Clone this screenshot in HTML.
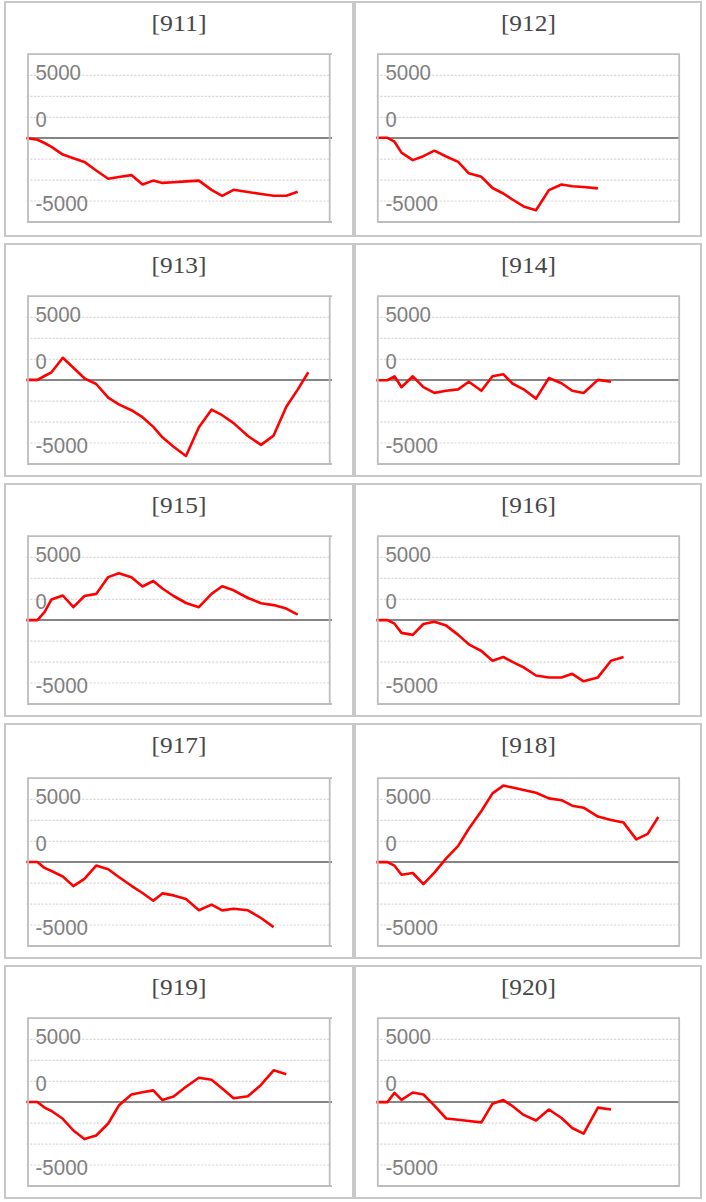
<!DOCTYPE html>
<html><head><meta charset="utf-8"><title>charts</title>
<style>html,body{margin:0;padding:0;background:#fff;width:706px;height:1202px;overflow:hidden}
svg{position:absolute;left:0;top:0;display:block}
</style></head>
<body>
<svg width="706" height="1202" viewBox="0 0 706 1202">
<rect x="5" y="2" width="348" height="234" fill="none" stroke="#c8c8c8" stroke-width="2"/>
<text x="179.0" y="31.0" text-anchor="middle" textLength="55.0" lengthAdjust="spacingAndGlyphs" style="font-family:&quot;Liberation Serif&quot;,serif" font-size="24" fill="#474747">[911]</text>
<g transform="translate(0,0)"><line x1="26.48" x2="329.0" y1="75.4" y2="75.4" stroke="#dadada" stroke-width="1.2" stroke-dasharray="2.4 1.31"/><line x1="26.48" x2="329.0" y1="96.35" y2="96.35" stroke="#dadada" stroke-width="1.2" stroke-dasharray="2.4 1.31"/><line x1="26.48" x2="329.0" y1="117.3" y2="117.3" stroke="#dadada" stroke-width="1.2" stroke-dasharray="2.4 1.31"/><line x1="26.48" x2="329.0" y1="159.1" y2="159.1" stroke="#dadada" stroke-width="1.2" stroke-dasharray="2.4 1.31"/><line x1="26.48" x2="329.0" y1="180.05" y2="180.05" stroke="#dadada" stroke-width="1.2" stroke-dasharray="2.4 1.31"/><line x1="26.48" x2="329.0" y1="201.0" y2="201.0" stroke="#dadada" stroke-width="1.2" stroke-dasharray="2.4 1.31"/><text x="35.5" y="80.0" textLength="45.5" lengthAdjust="spacingAndGlyphs" style="font-family:&quot;Liberation Sans&quot;,sans-serif" font-size="22" fill="#808080">5000</text><text x="35.5" y="127.0" textLength="11.2" lengthAdjust="spacingAndGlyphs" style="font-family:&quot;Liberation Sans&quot;,sans-serif" font-size="22" fill="#808080">0</text><text x="35.5" y="211.0" textLength="52.5" lengthAdjust="spacingAndGlyphs" style="font-family:&quot;Liberation Sans&quot;,sans-serif" font-size="22" fill="#808080">-5000</text><line x1="28" x2="332" y1="138.0" y2="138.0" stroke="#858585" stroke-width="2.0"/></g>
<polyline points="26.3,138.0 37.4,139.7 44.5,143.0 51.5,146.9 62.8,154.6 73.4,158.3 84.4,161.9 96.2,170.5 108.2,178.8 118.8,177.0 131.4,175.1 142.5,184.5 153.3,180.6 162.4,182.9 173.6,182.2 186.0,181.4 198.9,180.6 211.5,189.9 222.2,195.8 233.6,189.8 247.9,192.0 261.0,194.0 273.6,195.7 286.3,195.7 297.7,191.8" fill="none" stroke="#ff0000" stroke-width="2.6" stroke-linejoin="round" stroke-linecap="butt"/>
<g transform="translate(0,0)"><line x1="27.0" x2="332.0" y1="54.2" y2="54.2" stroke="#bdbdbd" stroke-width="1.8"/><line x1="27.0" x2="332.0" y1="222.0" y2="222.0" stroke="#bdbdbd" stroke-width="1.8"/><line x1="28.0" x2="28.0" y1="54.2" y2="222.0" stroke="#bdbdbd" stroke-width="1.8"/><line x1="329.7" x2="329.7" y1="54.2" y2="222.0" stroke="#bdbdbd" stroke-width="1.8"/></g>
<rect x="355" y="2" width="346" height="234" fill="none" stroke="#c8c8c8" stroke-width="2"/>
<text x="528.4" y="31.0" text-anchor="middle" textLength="55.0" lengthAdjust="spacingAndGlyphs" style="font-family:&quot;Liberation Serif&quot;,serif" font-size="24" fill="#474747">[912]</text>
<g transform="translate(350,0)"><line x1="26.48" x2="329.0" y1="75.4" y2="75.4" stroke="#dadada" stroke-width="1.2" stroke-dasharray="2.4 1.31"/><line x1="26.48" x2="329.0" y1="96.35" y2="96.35" stroke="#dadada" stroke-width="1.2" stroke-dasharray="2.4 1.31"/><line x1="26.48" x2="329.0" y1="117.3" y2="117.3" stroke="#dadada" stroke-width="1.2" stroke-dasharray="2.4 1.31"/><line x1="26.48" x2="329.0" y1="159.1" y2="159.1" stroke="#dadada" stroke-width="1.2" stroke-dasharray="2.4 1.31"/><line x1="26.48" x2="329.0" y1="180.05" y2="180.05" stroke="#dadada" stroke-width="1.2" stroke-dasharray="2.4 1.31"/><line x1="26.48" x2="329.0" y1="201.0" y2="201.0" stroke="#dadada" stroke-width="1.2" stroke-dasharray="2.4 1.31"/><text x="35.5" y="80.0" textLength="45.5" lengthAdjust="spacingAndGlyphs" style="font-family:&quot;Liberation Sans&quot;,sans-serif" font-size="22" fill="#808080">5000</text><text x="35.5" y="127.0" textLength="11.2" lengthAdjust="spacingAndGlyphs" style="font-family:&quot;Liberation Sans&quot;,sans-serif" font-size="22" fill="#808080">0</text><text x="35.5" y="211.0" textLength="52.5" lengthAdjust="spacingAndGlyphs" style="font-family:&quot;Liberation Sans&quot;,sans-serif" font-size="22" fill="#808080">-5000</text><line x1="28" x2="329.5" y1="138.0" y2="138.0" stroke="#858585" stroke-width="2.0"/></g>
<polyline points="376.3,137.8 387.4,137.8 394.5,141.7 401.5,152.6 412.8,160.1 423.4,156.2 434.4,150.7 446.2,156.5 458.2,161.9 468.8,173.3 481.4,176.8 492.5,188.0 503.3,193.5 512.4,199.5 523.6,206.4 536.0,210.3 548.9,190.1 561.5,184.5 572.2,186.2 583.6,187.0 597.9,188.4" fill="none" stroke="#ff0000" stroke-width="2.6" stroke-linejoin="round" stroke-linecap="butt"/>
<g transform="translate(350,0)"><line x1="27.0" x2="330.0" y1="54.2" y2="54.2" stroke="#bdbdbd" stroke-width="1.8"/><line x1="27.0" x2="330.0" y1="222.0" y2="222.0" stroke="#bdbdbd" stroke-width="1.8"/><line x1="27.8" x2="27.8" y1="54.2" y2="222.0" stroke="#bdbdbd" stroke-width="1.8"/><line x1="329.2" x2="329.2" y1="54.2" y2="222.0" stroke="#bdbdbd" stroke-width="1.8"/></g>
<rect x="5" y="244" width="348" height="232" fill="none" stroke="#c8c8c8" stroke-width="2"/>
<text x="179.0" y="273.0" text-anchor="middle" textLength="55.0" lengthAdjust="spacingAndGlyphs" style="font-family:&quot;Liberation Serif&quot;,serif" font-size="24" fill="#474747">[913]</text>
<g transform="translate(0,242)"><line x1="26.48" x2="329.0" y1="75.4" y2="75.4" stroke="#dadada" stroke-width="1.2" stroke-dasharray="2.4 1.31"/><line x1="26.48" x2="329.0" y1="96.35" y2="96.35" stroke="#dadada" stroke-width="1.2" stroke-dasharray="2.4 1.31"/><line x1="26.48" x2="329.0" y1="117.3" y2="117.3" stroke="#dadada" stroke-width="1.2" stroke-dasharray="2.4 1.31"/><line x1="26.48" x2="329.0" y1="159.1" y2="159.1" stroke="#dadada" stroke-width="1.2" stroke-dasharray="2.4 1.31"/><line x1="26.48" x2="329.0" y1="180.05" y2="180.05" stroke="#dadada" stroke-width="1.2" stroke-dasharray="2.4 1.31"/><line x1="26.48" x2="329.0" y1="201.0" y2="201.0" stroke="#dadada" stroke-width="1.2" stroke-dasharray="2.4 1.31"/><text x="35.5" y="80.0" textLength="45.5" lengthAdjust="spacingAndGlyphs" style="font-family:&quot;Liberation Sans&quot;,sans-serif" font-size="22" fill="#808080">5000</text><text x="35.5" y="127.0" textLength="11.2" lengthAdjust="spacingAndGlyphs" style="font-family:&quot;Liberation Sans&quot;,sans-serif" font-size="22" fill="#808080">0</text><text x="35.5" y="211.0" textLength="52.5" lengthAdjust="spacingAndGlyphs" style="font-family:&quot;Liberation Sans&quot;,sans-serif" font-size="22" fill="#808080">-5000</text><line x1="28" x2="332" y1="138.0" y2="138.0" stroke="#858585" stroke-width="2.0"/></g>
<polyline points="26.3,379.9 37.4,379.9 44.5,376.0 51.5,372.3 62.8,357.8 73.4,367.7 84.4,378.3 96.2,384.0 108.2,397.6 118.8,404.4 131.4,410.2 142.5,417.2 153.3,426.9 162.4,437.3 173.6,446.7 186.0,456.0 198.9,427.3 211.5,409.7 222.2,415.2 233.6,423.1 247.9,436.0 261.0,444.9 273.6,435.6 286.3,406.7 297.7,389.6 308.3,372.2" fill="none" stroke="#ff0000" stroke-width="2.6" stroke-linejoin="round" stroke-linecap="butt"/>
<g transform="translate(0,242)"><line x1="27.0" x2="332.0" y1="54.2" y2="54.2" stroke="#bdbdbd" stroke-width="1.8"/><line x1="27.0" x2="332.0" y1="222.0" y2="222.0" stroke="#bdbdbd" stroke-width="1.8"/><line x1="28.0" x2="28.0" y1="54.2" y2="222.0" stroke="#bdbdbd" stroke-width="1.8"/><line x1="329.7" x2="329.7" y1="54.2" y2="222.0" stroke="#bdbdbd" stroke-width="1.8"/></g>
<rect x="355" y="244" width="346" height="232" fill="none" stroke="#c8c8c8" stroke-width="2"/>
<text x="528.4" y="273.0" text-anchor="middle" textLength="55.0" lengthAdjust="spacingAndGlyphs" style="font-family:&quot;Liberation Serif&quot;,serif" font-size="24" fill="#474747">[914]</text>
<g transform="translate(350,242)"><line x1="26.48" x2="329.0" y1="75.4" y2="75.4" stroke="#dadada" stroke-width="1.2" stroke-dasharray="2.4 1.31"/><line x1="26.48" x2="329.0" y1="96.35" y2="96.35" stroke="#dadada" stroke-width="1.2" stroke-dasharray="2.4 1.31"/><line x1="26.48" x2="329.0" y1="117.3" y2="117.3" stroke="#dadada" stroke-width="1.2" stroke-dasharray="2.4 1.31"/><line x1="26.48" x2="329.0" y1="159.1" y2="159.1" stroke="#dadada" stroke-width="1.2" stroke-dasharray="2.4 1.31"/><line x1="26.48" x2="329.0" y1="180.05" y2="180.05" stroke="#dadada" stroke-width="1.2" stroke-dasharray="2.4 1.31"/><line x1="26.48" x2="329.0" y1="201.0" y2="201.0" stroke="#dadada" stroke-width="1.2" stroke-dasharray="2.4 1.31"/><text x="35.5" y="80.0" textLength="45.5" lengthAdjust="spacingAndGlyphs" style="font-family:&quot;Liberation Sans&quot;,sans-serif" font-size="22" fill="#808080">5000</text><text x="35.5" y="127.0" textLength="11.2" lengthAdjust="spacingAndGlyphs" style="font-family:&quot;Liberation Sans&quot;,sans-serif" font-size="22" fill="#808080">0</text><text x="35.5" y="211.0" textLength="52.5" lengthAdjust="spacingAndGlyphs" style="font-family:&quot;Liberation Sans&quot;,sans-serif" font-size="22" fill="#808080">-5000</text><line x1="28" x2="329.5" y1="138.0" y2="138.0" stroke="#858585" stroke-width="2.0"/></g>
<polyline points="376.3,380.2 387.4,380.2 394.5,376.3 401.5,387.2 412.8,376.3 423.4,387.2 434.4,392.9 446.2,390.8 458.2,389.4 468.8,381.8 481.4,390.8 492.5,376.3 503.3,374.2 512.4,383.5 523.6,389.3 536.0,398.6 548.9,378.0 561.5,383.3 572.2,390.8 583.6,393.0 597.9,379.9 611.0,381.8" fill="none" stroke="#ff0000" stroke-width="2.6" stroke-linejoin="round" stroke-linecap="butt"/>
<g transform="translate(350,242)"><line x1="27.0" x2="330.0" y1="54.2" y2="54.2" stroke="#bdbdbd" stroke-width="1.8"/><line x1="27.0" x2="330.0" y1="222.0" y2="222.0" stroke="#bdbdbd" stroke-width="1.8"/><line x1="27.8" x2="27.8" y1="54.2" y2="222.0" stroke="#bdbdbd" stroke-width="1.8"/><line x1="329.2" x2="329.2" y1="54.2" y2="222.0" stroke="#bdbdbd" stroke-width="1.8"/></g>
<rect x="5" y="484" width="348" height="232" fill="none" stroke="#c8c8c8" stroke-width="2"/>
<text x="179.0" y="513.0" text-anchor="middle" textLength="55.0" lengthAdjust="spacingAndGlyphs" style="font-family:&quot;Liberation Serif&quot;,serif" font-size="24" fill="#474747">[915]</text>
<g transform="translate(0,482)"><line x1="26.48" x2="329.0" y1="75.4" y2="75.4" stroke="#dadada" stroke-width="1.2" stroke-dasharray="2.4 1.31"/><line x1="26.48" x2="329.0" y1="96.35" y2="96.35" stroke="#dadada" stroke-width="1.2" stroke-dasharray="2.4 1.31"/><line x1="26.48" x2="329.0" y1="117.3" y2="117.3" stroke="#dadada" stroke-width="1.2" stroke-dasharray="2.4 1.31"/><line x1="26.48" x2="329.0" y1="159.1" y2="159.1" stroke="#dadada" stroke-width="1.2" stroke-dasharray="2.4 1.31"/><line x1="26.48" x2="329.0" y1="180.05" y2="180.05" stroke="#dadada" stroke-width="1.2" stroke-dasharray="2.4 1.31"/><line x1="26.48" x2="329.0" y1="201.0" y2="201.0" stroke="#dadada" stroke-width="1.2" stroke-dasharray="2.4 1.31"/><text x="35.5" y="80.0" textLength="45.5" lengthAdjust="spacingAndGlyphs" style="font-family:&quot;Liberation Sans&quot;,sans-serif" font-size="22" fill="#808080">5000</text><text x="35.5" y="127.0" textLength="11.2" lengthAdjust="spacingAndGlyphs" style="font-family:&quot;Liberation Sans&quot;,sans-serif" font-size="22" fill="#808080">0</text><text x="35.5" y="211.0" textLength="52.5" lengthAdjust="spacingAndGlyphs" style="font-family:&quot;Liberation Sans&quot;,sans-serif" font-size="22" fill="#808080">-5000</text><line x1="28" x2="332" y1="138.0" y2="138.0" stroke="#858585" stroke-width="2.0"/></g>
<polyline points="26.3,620.1 37.4,620.1 44.5,612.2 51.5,599.4 62.8,595.5 73.4,607.2 84.4,596.0 96.2,593.9 108.2,577.1 118.8,573.2 131.4,577.2 142.5,586.5 153.3,581.0 162.4,588.5 173.6,596.0 186.0,603.0 198.9,607.2 211.5,593.9 222.2,586.3 233.6,590.3 247.9,598.0 261.0,603.2 273.6,605.1 286.3,608.6 297.7,614.7" fill="none" stroke="#ff0000" stroke-width="2.6" stroke-linejoin="round" stroke-linecap="butt"/>
<g transform="translate(0,482)"><line x1="27.0" x2="332.0" y1="54.2" y2="54.2" stroke="#bdbdbd" stroke-width="1.8"/><line x1="27.0" x2="332.0" y1="222.0" y2="222.0" stroke="#bdbdbd" stroke-width="1.8"/><line x1="28.0" x2="28.0" y1="54.2" y2="222.0" stroke="#bdbdbd" stroke-width="1.8"/><line x1="329.7" x2="329.7" y1="54.2" y2="222.0" stroke="#bdbdbd" stroke-width="1.8"/></g>
<rect x="355" y="484" width="346" height="232" fill="none" stroke="#c8c8c8" stroke-width="2"/>
<text x="528.4" y="513.0" text-anchor="middle" textLength="55.0" lengthAdjust="spacingAndGlyphs" style="font-family:&quot;Liberation Serif&quot;,serif" font-size="24" fill="#474747">[916]</text>
<g transform="translate(350,482)"><line x1="26.48" x2="329.0" y1="75.4" y2="75.4" stroke="#dadada" stroke-width="1.2" stroke-dasharray="2.4 1.31"/><line x1="26.48" x2="329.0" y1="96.35" y2="96.35" stroke="#dadada" stroke-width="1.2" stroke-dasharray="2.4 1.31"/><line x1="26.48" x2="329.0" y1="117.3" y2="117.3" stroke="#dadada" stroke-width="1.2" stroke-dasharray="2.4 1.31"/><line x1="26.48" x2="329.0" y1="159.1" y2="159.1" stroke="#dadada" stroke-width="1.2" stroke-dasharray="2.4 1.31"/><line x1="26.48" x2="329.0" y1="180.05" y2="180.05" stroke="#dadada" stroke-width="1.2" stroke-dasharray="2.4 1.31"/><line x1="26.48" x2="329.0" y1="201.0" y2="201.0" stroke="#dadada" stroke-width="1.2" stroke-dasharray="2.4 1.31"/><text x="35.5" y="80.0" textLength="45.5" lengthAdjust="spacingAndGlyphs" style="font-family:&quot;Liberation Sans&quot;,sans-serif" font-size="22" fill="#808080">5000</text><text x="35.5" y="127.0" textLength="11.2" lengthAdjust="spacingAndGlyphs" style="font-family:&quot;Liberation Sans&quot;,sans-serif" font-size="22" fill="#808080">0</text><text x="35.5" y="211.0" textLength="52.5" lengthAdjust="spacingAndGlyphs" style="font-family:&quot;Liberation Sans&quot;,sans-serif" font-size="22" fill="#808080">-5000</text><line x1="28" x2="329.5" y1="138.0" y2="138.0" stroke="#858585" stroke-width="2.0"/></g>
<polyline points="376.3,620.1 387.4,620.1 394.5,623.7 401.5,632.9 412.8,634.9 423.4,624.0 434.4,621.7 446.2,625.6 458.2,634.9 468.8,644.3 481.4,651.0 492.5,660.7 503.3,657.0 512.4,661.9 523.6,667.4 536.0,675.5 548.9,677.5 561.5,677.5 572.2,673.8 583.6,681.3 597.9,677.4 611.0,660.7 623.6,657.1" fill="none" stroke="#ff0000" stroke-width="2.6" stroke-linejoin="round" stroke-linecap="butt"/>
<g transform="translate(350,482)"><line x1="27.0" x2="330.0" y1="54.2" y2="54.2" stroke="#bdbdbd" stroke-width="1.8"/><line x1="27.0" x2="330.0" y1="222.0" y2="222.0" stroke="#bdbdbd" stroke-width="1.8"/><line x1="27.8" x2="27.8" y1="54.2" y2="222.0" stroke="#bdbdbd" stroke-width="1.8"/><line x1="329.2" x2="329.2" y1="54.2" y2="222.0" stroke="#bdbdbd" stroke-width="1.8"/></g>
<rect x="5" y="724" width="348" height="234" fill="none" stroke="#c8c8c8" stroke-width="2"/>
<text x="179.0" y="753.0" text-anchor="middle" textLength="55.0" lengthAdjust="spacingAndGlyphs" style="font-family:&quot;Liberation Serif&quot;,serif" font-size="24" fill="#474747">[917]</text>
<g transform="translate(0,724)"><line x1="26.48" x2="329.0" y1="75.4" y2="75.4" stroke="#dadada" stroke-width="1.2" stroke-dasharray="2.4 1.31"/><line x1="26.48" x2="329.0" y1="96.35" y2="96.35" stroke="#dadada" stroke-width="1.2" stroke-dasharray="2.4 1.31"/><line x1="26.48" x2="329.0" y1="117.3" y2="117.3" stroke="#dadada" stroke-width="1.2" stroke-dasharray="2.4 1.31"/><line x1="26.48" x2="329.0" y1="159.1" y2="159.1" stroke="#dadada" stroke-width="1.2" stroke-dasharray="2.4 1.31"/><line x1="26.48" x2="329.0" y1="180.05" y2="180.05" stroke="#dadada" stroke-width="1.2" stroke-dasharray="2.4 1.31"/><line x1="26.48" x2="329.0" y1="201.0" y2="201.0" stroke="#dadada" stroke-width="1.2" stroke-dasharray="2.4 1.31"/><text x="35.5" y="80.0" textLength="45.5" lengthAdjust="spacingAndGlyphs" style="font-family:&quot;Liberation Sans&quot;,sans-serif" font-size="22" fill="#808080">5000</text><text x="35.5" y="127.0" textLength="11.2" lengthAdjust="spacingAndGlyphs" style="font-family:&quot;Liberation Sans&quot;,sans-serif" font-size="22" fill="#808080">0</text><text x="35.5" y="211.0" textLength="52.5" lengthAdjust="spacingAndGlyphs" style="font-family:&quot;Liberation Sans&quot;,sans-serif" font-size="22" fill="#808080">-5000</text><line x1="28" x2="332" y1="138.0" y2="138.0" stroke="#858585" stroke-width="2.0"/></g>
<polyline points="26.3,862.0 37.4,862.0 44.5,867.9 51.5,871.0 62.8,876.5 73.4,886.1 84.4,878.8 96.2,865.6 108.2,869.2 118.8,877.0 131.4,885.8 142.5,893.0 153.3,900.7 162.4,893.4 173.6,895.4 186.0,899.1 198.9,910.2 211.5,904.6 222.2,910.4 233.6,908.7 247.9,910.3 261.0,918.0 273.6,927.1" fill="none" stroke="#ff0000" stroke-width="2.6" stroke-linejoin="round" stroke-linecap="butt"/>
<g transform="translate(0,724)"><line x1="27.0" x2="332.0" y1="54.2" y2="54.2" stroke="#bdbdbd" stroke-width="1.8"/><line x1="27.0" x2="332.0" y1="222.0" y2="222.0" stroke="#bdbdbd" stroke-width="1.8"/><line x1="28.0" x2="28.0" y1="54.2" y2="222.0" stroke="#bdbdbd" stroke-width="1.8"/><line x1="329.7" x2="329.7" y1="54.2" y2="222.0" stroke="#bdbdbd" stroke-width="1.8"/></g>
<rect x="355" y="724" width="346" height="234" fill="none" stroke="#c8c8c8" stroke-width="2"/>
<text x="528.4" y="753.0" text-anchor="middle" textLength="55.0" lengthAdjust="spacingAndGlyphs" style="font-family:&quot;Liberation Serif&quot;,serif" font-size="24" fill="#474747">[918]</text>
<g transform="translate(350,724)"><line x1="26.48" x2="329.0" y1="75.4" y2="75.4" stroke="#dadada" stroke-width="1.2" stroke-dasharray="2.4 1.31"/><line x1="26.48" x2="329.0" y1="96.35" y2="96.35" stroke="#dadada" stroke-width="1.2" stroke-dasharray="2.4 1.31"/><line x1="26.48" x2="329.0" y1="117.3" y2="117.3" stroke="#dadada" stroke-width="1.2" stroke-dasharray="2.4 1.31"/><line x1="26.48" x2="329.0" y1="159.1" y2="159.1" stroke="#dadada" stroke-width="1.2" stroke-dasharray="2.4 1.31"/><line x1="26.48" x2="329.0" y1="180.05" y2="180.05" stroke="#dadada" stroke-width="1.2" stroke-dasharray="2.4 1.31"/><line x1="26.48" x2="329.0" y1="201.0" y2="201.0" stroke="#dadada" stroke-width="1.2" stroke-dasharray="2.4 1.31"/><text x="35.5" y="80.0" textLength="45.5" lengthAdjust="spacingAndGlyphs" style="font-family:&quot;Liberation Sans&quot;,sans-serif" font-size="22" fill="#808080">5000</text><text x="35.5" y="127.0" textLength="11.2" lengthAdjust="spacingAndGlyphs" style="font-family:&quot;Liberation Sans&quot;,sans-serif" font-size="22" fill="#808080">0</text><text x="35.5" y="211.0" textLength="52.5" lengthAdjust="spacingAndGlyphs" style="font-family:&quot;Liberation Sans&quot;,sans-serif" font-size="22" fill="#808080">-5000</text><line x1="28" x2="329.5" y1="138.0" y2="138.0" stroke="#858585" stroke-width="2.0"/></g>
<polyline points="376.3,862.1 387.4,862.1 394.5,865.7 401.5,874.7 412.8,873.0 423.4,884.1 434.4,872.7 446.2,858.4 458.2,845.9 468.8,828.8 481.4,811.0 492.5,793.4 503.3,785.6 512.4,787.5 523.6,790.0 536.0,792.8 548.9,798.4 561.5,800.2 572.2,805.7 583.6,807.7 597.9,816.6 611.0,820.0 623.6,822.6 636.3,839.4 647.7,833.9 658.3,817.0" fill="none" stroke="#ff0000" stroke-width="2.6" stroke-linejoin="round" stroke-linecap="butt"/>
<g transform="translate(350,724)"><line x1="27.0" x2="330.0" y1="54.2" y2="54.2" stroke="#bdbdbd" stroke-width="1.8"/><line x1="27.0" x2="330.0" y1="222.0" y2="222.0" stroke="#bdbdbd" stroke-width="1.8"/><line x1="27.8" x2="27.8" y1="54.2" y2="222.0" stroke="#bdbdbd" stroke-width="1.8"/><line x1="329.2" x2="329.2" y1="54.2" y2="222.0" stroke="#bdbdbd" stroke-width="1.8"/></g>
<rect x="5" y="966" width="348" height="232" fill="none" stroke="#c8c8c8" stroke-width="2"/>
<text x="179.0" y="995.0" text-anchor="middle" textLength="55.0" lengthAdjust="spacingAndGlyphs" style="font-family:&quot;Liberation Serif&quot;,serif" font-size="24" fill="#474747">[919]</text>
<g transform="translate(0,964)"><line x1="26.48" x2="329.0" y1="75.4" y2="75.4" stroke="#dadada" stroke-width="1.2" stroke-dasharray="2.4 1.31"/><line x1="26.48" x2="329.0" y1="96.35" y2="96.35" stroke="#dadada" stroke-width="1.2" stroke-dasharray="2.4 1.31"/><line x1="26.48" x2="329.0" y1="117.3" y2="117.3" stroke="#dadada" stroke-width="1.2" stroke-dasharray="2.4 1.31"/><line x1="26.48" x2="329.0" y1="159.1" y2="159.1" stroke="#dadada" stroke-width="1.2" stroke-dasharray="2.4 1.31"/><line x1="26.48" x2="329.0" y1="180.05" y2="180.05" stroke="#dadada" stroke-width="1.2" stroke-dasharray="2.4 1.31"/><line x1="26.48" x2="329.0" y1="201.0" y2="201.0" stroke="#dadada" stroke-width="1.2" stroke-dasharray="2.4 1.31"/><text x="35.5" y="80.0" textLength="45.5" lengthAdjust="spacingAndGlyphs" style="font-family:&quot;Liberation Sans&quot;,sans-serif" font-size="22" fill="#808080">5000</text><text x="35.5" y="127.0" textLength="11.2" lengthAdjust="spacingAndGlyphs" style="font-family:&quot;Liberation Sans&quot;,sans-serif" font-size="22" fill="#808080">0</text><text x="35.5" y="211.0" textLength="52.5" lengthAdjust="spacingAndGlyphs" style="font-family:&quot;Liberation Sans&quot;,sans-serif" font-size="22" fill="#808080">-5000</text><line x1="28" x2="332" y1="138.0" y2="138.0" stroke="#858585" stroke-width="2.0"/></g>
<polyline points="26.3,1102.0 37.4,1102.0 44.5,1107.6 51.5,1111.0 62.8,1118.8 73.4,1130.5 84.4,1139.1 96.2,1135.5 108.2,1123.5 118.8,1105.6 131.4,1094.5 142.5,1092.3 153.3,1090.4 162.4,1100.1 173.6,1096.6 186.0,1086.8 198.9,1077.8 211.5,1079.8 222.2,1088.5 233.6,1098.2 247.9,1096.3 261.0,1084.9 273.6,1070.3 286.3,1074.2" fill="none" stroke="#ff0000" stroke-width="2.6" stroke-linejoin="round" stroke-linecap="butt"/>
<g transform="translate(0,964)"><line x1="27.0" x2="332.0" y1="54.2" y2="54.2" stroke="#bdbdbd" stroke-width="1.8"/><line x1="27.0" x2="332.0" y1="222.0" y2="222.0" stroke="#bdbdbd" stroke-width="1.8"/><line x1="28.0" x2="28.0" y1="54.2" y2="222.0" stroke="#bdbdbd" stroke-width="1.8"/><line x1="329.7" x2="329.7" y1="54.2" y2="222.0" stroke="#bdbdbd" stroke-width="1.8"/></g>
<rect x="355" y="966" width="346" height="232" fill="none" stroke="#c8c8c8" stroke-width="2"/>
<text x="528.4" y="995.0" text-anchor="middle" textLength="55.0" lengthAdjust="spacingAndGlyphs" style="font-family:&quot;Liberation Serif&quot;,serif" font-size="24" fill="#474747">[920]</text>
<g transform="translate(350,964)"><line x1="26.48" x2="329.0" y1="75.4" y2="75.4" stroke="#dadada" stroke-width="1.2" stroke-dasharray="2.4 1.31"/><line x1="26.48" x2="329.0" y1="96.35" y2="96.35" stroke="#dadada" stroke-width="1.2" stroke-dasharray="2.4 1.31"/><line x1="26.48" x2="329.0" y1="117.3" y2="117.3" stroke="#dadada" stroke-width="1.2" stroke-dasharray="2.4 1.31"/><line x1="26.48" x2="329.0" y1="159.1" y2="159.1" stroke="#dadada" stroke-width="1.2" stroke-dasharray="2.4 1.31"/><line x1="26.48" x2="329.0" y1="180.05" y2="180.05" stroke="#dadada" stroke-width="1.2" stroke-dasharray="2.4 1.31"/><line x1="26.48" x2="329.0" y1="201.0" y2="201.0" stroke="#dadada" stroke-width="1.2" stroke-dasharray="2.4 1.31"/><text x="35.5" y="80.0" textLength="45.5" lengthAdjust="spacingAndGlyphs" style="font-family:&quot;Liberation Sans&quot;,sans-serif" font-size="22" fill="#808080">5000</text><text x="35.5" y="127.0" textLength="11.2" lengthAdjust="spacingAndGlyphs" style="font-family:&quot;Liberation Sans&quot;,sans-serif" font-size="22" fill="#808080">0</text><text x="35.5" y="211.0" textLength="52.5" lengthAdjust="spacingAndGlyphs" style="font-family:&quot;Liberation Sans&quot;,sans-serif" font-size="22" fill="#808080">-5000</text><line x1="28" x2="329.5" y1="138.0" y2="138.0" stroke="#858585" stroke-width="2.0"/></g>
<polyline points="376.3,1102.1 387.4,1102.1 394.5,1092.8 401.5,1099.9 412.8,1092.5 423.4,1094.5 434.4,1105.6 446.2,1118.5 458.2,1119.7 468.8,1121.0 481.4,1122.4 492.5,1103.7 503.3,1100.1 512.4,1106.0 523.6,1114.9 536.0,1120.5 548.9,1109.5 561.5,1118.0 572.2,1128.0 583.6,1133.7 597.9,1107.6 611.0,1109.5" fill="none" stroke="#ff0000" stroke-width="2.6" stroke-linejoin="round" stroke-linecap="butt"/>
<g transform="translate(350,964)"><line x1="27.0" x2="330.0" y1="54.2" y2="54.2" stroke="#bdbdbd" stroke-width="1.8"/><line x1="27.0" x2="330.0" y1="222.0" y2="222.0" stroke="#bdbdbd" stroke-width="1.8"/><line x1="27.8" x2="27.8" y1="54.2" y2="222.0" stroke="#bdbdbd" stroke-width="1.8"/><line x1="329.2" x2="329.2" y1="54.2" y2="222.0" stroke="#bdbdbd" stroke-width="1.8"/></g>
</svg>
</body></html>
